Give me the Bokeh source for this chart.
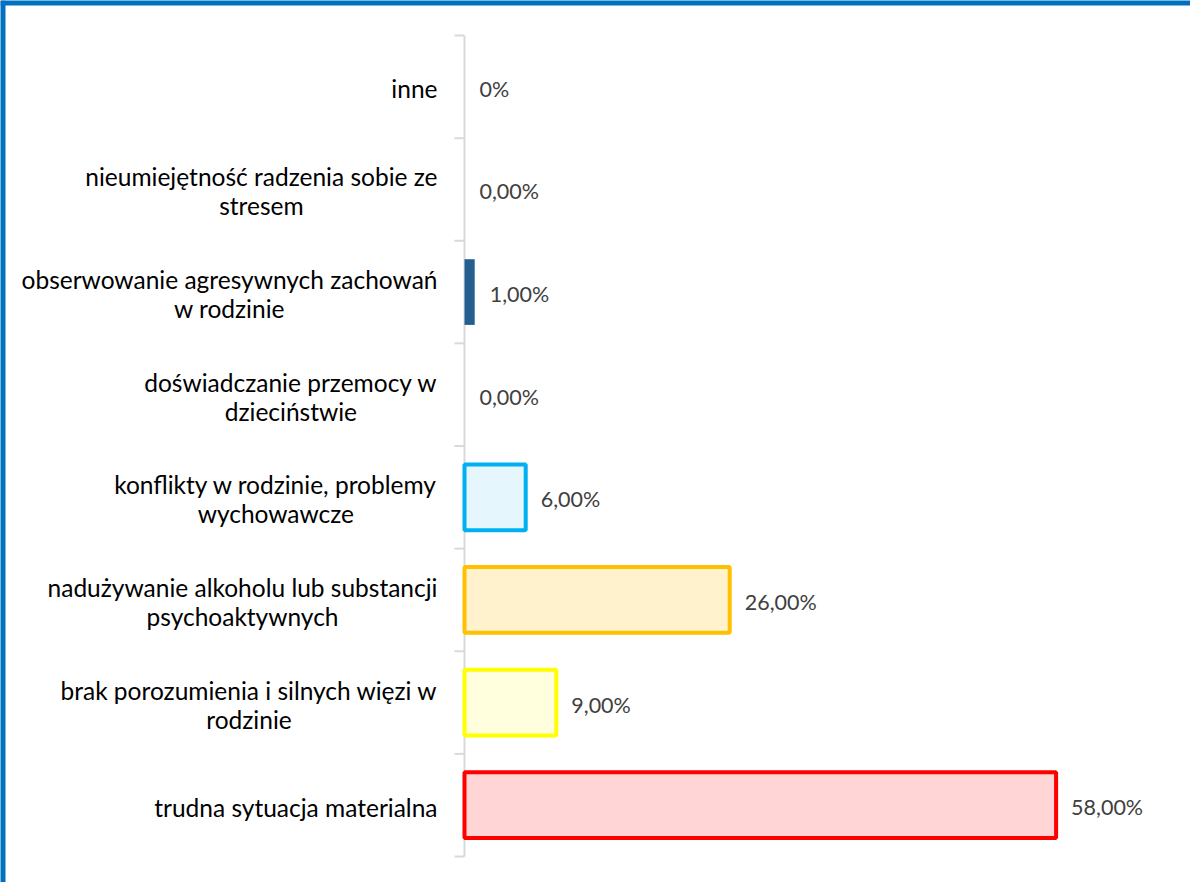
import numpy as np
from bokeh.plotting import figure
from bokeh.models import Range1d, Span, ColumnDataSource
from bokeh.core.properties import value
from bokeh.embed import file_html
from bokeh.resources import INLINE

# ---- data (top to bottom, as shown) ----
categories = [
    "inne",
    "nieumiejętność radzenia sobie ze\nstresem",
    "obserwowanie agresywnych zachowań\nw rodzinie",
    "doświadczanie przemocy w\ndzieciństwie",
    "konflikty w rodzinie, problemy\nwychowawcze",
    "nadużywanie alkoholu lub substancji\npsychoaktywnych",
    "brak porozumienia i silnych więzi w\nrodzinie",
    "trudna sytuacja materialna",
]
values = [0, 0, 1, 0, 6, 26, 9, 58]
value_labels = ["0%", "0,00%", "1,00%", "0,00%", "6,00%", "26,00%", "9,00%", "58,00%"]

# ---- styles ----
fill_colors = ["#FFFFFF", "#FFFFFF", "#255E91", "#FFFFFF", "#E6F6FD", "#FFF2CC", "#FFFFDD", "#FFD5D6"]
line_colors = ["#FFFFFF", "#FFFFFF", "#255E91", "#FFFFFF", "#00B0F0", "#FFC000", "#FFFF00", "#FF0000"]
line_alphas = [0, 0, 0, 0, 1, 1, 1, 1]
fill_alphas = [0, 0, 1, 0, 1, 1, 1, 1]

W, H = 1190, 882
n = len(categories)
px_per_unit = 10.2           # pixels per percent
axis_px = 464                # canvas x of the category axis
cat_px = 102.6               # pixels per category
top_px, bottom_px = 35, 26   # space above / below the category block

x0 = -axis_px / px_per_unit
x1 = (W - axis_px) / px_per_unit
y0 = -bottom_px / cat_px
y1 = n + top_px / cat_px

centers = [n - i - 0.5 for i in range(n)]

src = ColumnDataSource(dict(
    cat=categories, val=values, lab=value_labels, y=centers,
    fill=fill_colors, line=line_colors, la=line_alphas, fa=fill_alphas,
))

p = figure(width=W, height=H, output_backend="svg", toolbar_location=None,
           x_range=Range1d(x0, x1), y_range=Range1d(y0, y1),
           x_axis_location=None, y_axis_location=None, min_border=0)
p.grid.visible = False
p.outline_line_color = None
p.background_fill_color = "#FFFFFF"

# category axis line and boundary ticks
p.segment(x0=0, y0=0, x1=0, y1=n, line_color="#D9D9D9", line_width=2)
p.ray(x=[0] * (n + 1), y=list(range(n + 1)), length=10, length_units="screen",
      angle=np.pi, line_color="#D9D9D9", line_width=2)

# bars
p.hbar(y="y", left=0, right="val", height=0.64, source=src,
       fill_color="fill", fill_alpha="fa", line_color="line", line_alpha="la", line_width=4)

# category labels
p.text(x=0, y="y", text="cat", source=src, x_offset=-27, y_offset=2,
       anchor="center_right", text_align="center", text_baseline="middle",
       text_font=value("Lato"), text_font_size="24.5px", text_color="#000000",
       text_line_height=1.0)

# value labels
p.text(x="val", y="y", text="lab", source=src, x_offset=15, y_offset=2,
       text_align="left", text_baseline="middle",
       text_font=value("Lato"), text_font_size="21.5px", text_color="#404040")

# chart border (top and left)
p.add_layout(Span(location=x0, dimension="height", line_color="#0070C0", line_width=10))
p.add_layout(Span(location=y1, dimension="width", line_color="#0070C0", line_width=10))

open("out.html", "w").write(file_html(p, INLINE))
